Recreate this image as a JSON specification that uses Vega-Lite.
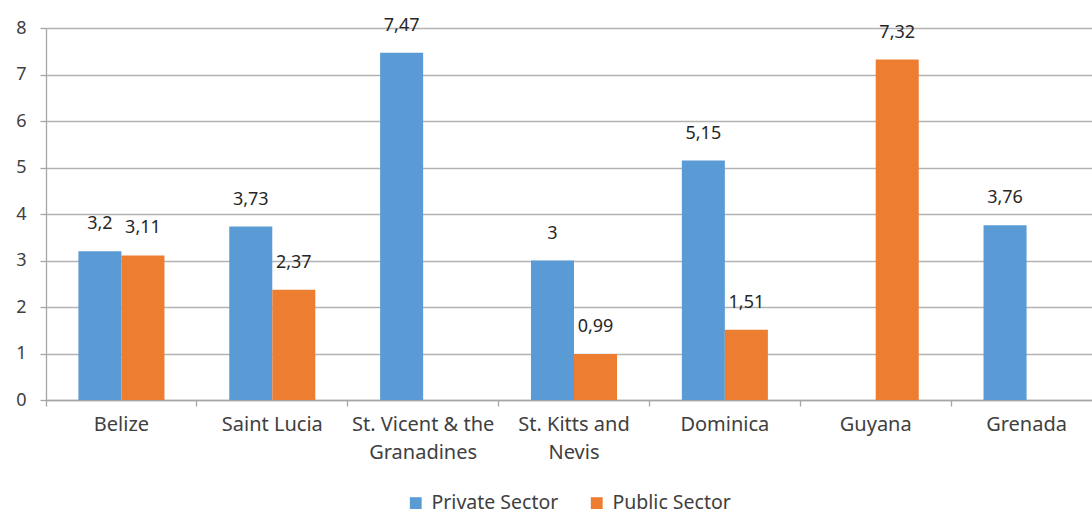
{
  "$schema": "https://vega.github.io/schema/vega-lite/v6.json",
  "autosize": {"type": "none"},
  "width": 1056,
  "height": 372,
  "padding": {"left": 46, "top": 28, "right": 0, "bottom": 114},
  "background": "white",
  "config": {
    "locale": {"number": {"decimal": ",", "thousands": ".", "grouping": [3], "currency": ["", ""]}},
    "font": "Noto Sans",
    "view": {"stroke": null}
  },
  "data": {
    "values": [
      {"country": "Belize", "sector": "Private Sector", "value": 3.2},
      {"country": "Belize", "sector": "Public Sector", "value": 3.11},
      {"country": "Saint Lucia", "sector": "Private Sector", "value": 3.73},
      {"country": "Saint Lucia", "sector": "Public Sector", "value": 2.37},
      {"country": "St. Vicent & the Granadines", "sector": "Private Sector", "value": 7.47},
      {"country": "St. Kitts and Nevis", "sector": "Private Sector", "value": 3},
      {"country": "St. Kitts and Nevis", "sector": "Public Sector", "value": 0.99},
      {"country": "Dominica", "sector": "Private Sector", "value": 5.15},
      {"country": "Dominica", "sector": "Public Sector", "value": 1.51},
      {"country": "Guyana", "sector": "Public Sector", "value": 7.32},
      {"country": "Grenada", "sector": "Private Sector", "value": 3.76}
    ]
  },
  "resolve": {"axis": {"x": "independent"}},
  "layer": [
    {
      "mark": {"type": "bar"},
      "encoding": {
        "x": {
          "field": "country",
          "type": "nominal",
          "sort": null,
          "scale": {"paddingInner": 0, "paddingOuter": 0},
          "axis": {
            "orient": "bottom",
            "title": null,
            "labelAngle": 0,
            "labelFontSize": 20,
            "labelColor": "#404040",
            "labelPadding": 14,
            "labelLineHeight": 28,
            "labelBaseline": "top",
            "labelExpr": "datum.label == 'St. Vicent & the Granadines' ? ['St. Vicent & the', 'Granadines'] : datum.label == 'St. Kitts and Nevis' ? ['St. Kitts and', 'Nevis'] : datum.label",
            "ticks": false,
            "domainColor": "#a6a6a6",
            "domainWidth": 1.3,
            "grid": false
          }
        },
        "xOffset": {
          "field": "sector",
          "type": "nominal",
          "scale": {"domain": ["Private Sector", "Public Sector"], "paddingInner": 0, "paddingOuter": 0.753}
        },
        "y": {
          "field": "value",
          "type": "quantitative",
          "scale": {"domain": [0, 8], "nice": false},
          "axis": {
            "title": null,
            "values": [0, 1, 2, 3, 4, 5, 6, 7, 8],
            "labelFontSize": 18,
            "labelColor": "#404040",
            "labelPadding": 14,
            "tickSize": 6,
            "tickColor": "#a6a6a6",
            "tickWidth": 1.3,
            "domainColor": "#a6a6a6",
            "domainWidth": 1.3,
            "gridColor": "#b3b3b3",
            "gridWidth": 1.3
          }
        },
        "color": {
          "field": "sector",
          "type": "nominal",
          "scale": {"domain": ["Private Sector", "Public Sector"], "range": ["#5B9BD5", "#ED7D31"]},
          "legend": {
            "title": null,
            "orient": "none",
            "legendX": 360,
            "legendY": 465,
            "direction": "horizontal",
            "symbolType": "square",
            "symbolSize": 140,
            "symbolStrokeWidth": 0,
            "labelFontSize": 19.5,
            "labelColor": "#404040",
            "labelOffset": 6,
            "columnPadding": 28
          }
        }
      }
    },
    {
      "mark": {"type": "text", "baseline": "middle", "dy": -27, "fontSize": 18, "color": "#262626"},
      "encoding": {
        "x": {"field": "country", "type": "nominal", "sort": null, "axis": null},
        "xOffset": {"field": "sector", "type": "nominal"},
        "y": {"field": "value", "type": "quantitative"},
        "text": {"field": "value", "type": "quantitative", "format": ".3~r"}
      }
    },
    {
      "mark": {"type": "rule", "opacity": 0},
      "encoding": {
        "x": {
          "field": "country",
          "type": "nominal",
          "sort": null,
          "axis": {
            "orient": "bottom",
            "title": null,
            "labels": false,
            "domain": false,
            "grid": false,
            "ticks": true,
            "bandPosition": 0,
            "tickSize": 6,
            "tickColor": "#a6a6a6",
            "tickWidth": 1.3,
            "tickOpacity": 1
          }
        }
      }
    }
  ]
}
